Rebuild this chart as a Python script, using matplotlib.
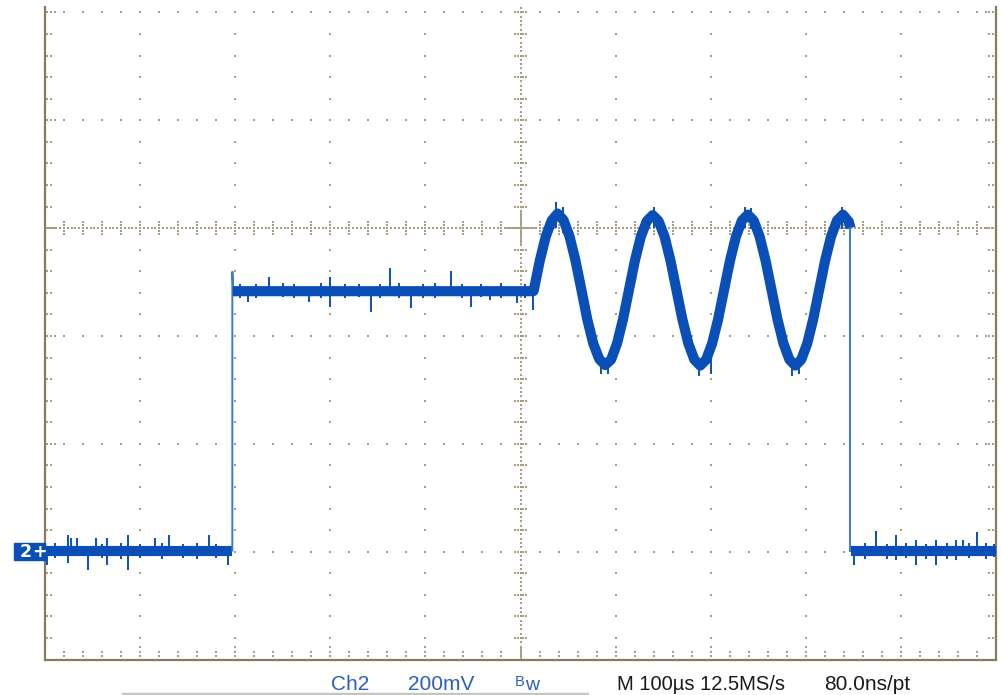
import numpy as np
import matplotlib
matplotlib.use("Agg")
from matplotlib import pyplot as plt
from matplotlib.patches import Rectangle

# time in us, level in mV (0 mV = Ch2 ground marker), 100 us/div, 200 mV/div
low_level = 2
high_level = 483
rise_t = 197
rise_top = 519
fall_t = 847
fall_top = 600

# 10 kHz burst
burst_t = [514.0, 520.2, 526.5, 532.8, 539.0, 545.2, 551.5, 557.8,
           564.0, 570.2, 576.5, 582.8, 589.0, 595.2, 601.5, 607.8,
           614.0, 620.2, 626.5, 632.8, 639.0, 645.2, 651.5, 657.8,
           664.0, 670.2, 676.5, 682.8, 689.0, 695.2, 701.5, 707.8,
           714.0, 720.2, 726.5, 732.8, 739.0, 745.2, 751.5, 757.8,
           764.0, 770.2, 776.5, 782.8, 789.0, 795.2, 801.5, 807.8,
           814.0, 820.2, 826.5, 832.8, 839.0, 845.2, 847.0]
burst_mv = [485, 539, 584, 614, 627, 615, 585, 540,
            486, 431, 386, 357, 346, 356, 386, 431,
            485, 539, 584, 613, 624, 613, 584, 539,
            485, 431, 386, 356, 345, 356, 386, 431,
            485, 539, 584, 614, 625, 614, 584, 539,
            485, 431, 386, 356, 345, 356, 386, 431,
            485, 539, 584, 614, 625, 612, 600]

# noise spikes: time, bottom, top (mV)
spike_t = [2, 10, 24, 27, 34, 45, 54, 60, 65, 80, 87, 100, 116, 123, 130,
           145, 160, 172, 180, 192,
           205, 213, 222, 236, 250, 262, 278, 290, 300, 315, 330, 343, 352,
           363, 372, 385, 398, 410, 427, 438, 448, 458, 468, 480, 496, 505, 513,
           537, 545, 585, 592, 640, 688, 700, 736, 742, 786, 793, 838,
           851, 862, 874, 885, 895, 905, 916, 926, 937, 948, 958, 965, 972,
           980, 990, 998]
spike_lo = [-25, -12, -21, 2, 2, -34, 2, -12, -25, -14, -34, -12, 2, -14, 2,
            -12, -14, 2, -12, -25,
            470, 463, 470, 483, 472, 470, 463, 471, 454, 470, 472, 445, 470,
            483, 470, 452, 471, 470, 483, 470, 453, 472, 466, 470, 462, 471, 448,
            600, 590, 330, 330, 600, 325, 330, 600, 598, 325, 330, 598,
            -25, -13, 2, -14, -15, -12, -25, -13, -25, -14, -15, 2, -12,
            2, -14, -10]
spike_hi = [2, 16, 31, 25, 25, 2, 25, 14, 25, 16, 31, 15, 25, 16, 31,
            15, 16, 31, 15, 2,
            497, 483, 496, 510, 498, 497, 483, 498, 510, 497, 496, 483, 497,
            526, 498, 483, 497, 498, 520, 497, 483, 496, 483, 498, 483, 497, 483,
            648, 640, 360, 360, 640, 355, 360, 640, 638, 355, 360, 640,
            2, 16, 39, 15, 31, 16, 22, 15, 22, 16, 22, 22, 16,
            37, 16, 15]

trace_col = '#0a4fb8'
edge_col = '#3a7ad2'
grid_col = '#a89e82'
border_col = '#877d5e'
label_blue = '#2a5ec0'

fig = plt.figure(figsize=(10.01, 6.95), dpi=100)
ax = fig.add_axes([45 / 1001, 35.5 / 695, 951 / 1001, 652.5 / 695])
ax.set_xlim(0, 1000)
ax.set_ylim(-200, 1010)
ax.set_xticks([])
ax.set_yticks([])
ax.spines['top'].set_visible(False)
for s in ['left', 'right', 'bottom']:
    ax.spines[s].set_color(border_col)
    ax.spines[s].set_linewidth(1.6)


def dots(xs, ys):
    ax.plot(xs, ys, 's', ms=1.5, mew=0, color=grid_col, zorder=1)


# graticule
minor_y = np.arange(-200, 1011, 40)
minor_x = np.arange(0, 1001, 20)
for gx in range(100, 1000, 100):
    if gx == 500:
        yy = np.arange(-200, 1011, 8)
    else:
        yy = minor_y
    dots(np.full(len(yy), gx), yy)
for gy in range(0, 1001, 200):
    if gy == 600:
        xx = np.arange(0, 1001, 4)
    else:
        xx = minor_x
    dots(xx, np.full(len(xx), gy))

# tick marks on the centre lines
for yy in minor_y:
    dots([494, 497, 503, 506], [yy] * 4)
for xx in minor_x:
    dots([xx] * 4, [589, 594, 606, 611])
ax.plot([486, 514], [600, 600], color=grid_col, lw=1.3, zorder=1)
ax.plot([500, 500], [570, 630], color=grid_col, lw=1.3, zorder=1)

# tick marks along the border
for xx in minor_x:
    ticks = [-193.5, -185.5]
    if xx % 100 == 0:
        ticks.append(-176)
    dots([xx] * len(ticks), ticks)
for yy in minor_y:
    left = [2, 6]
    right = [996.5, 993]
    if yy % 200 == 0:
        left.append(10.5)
        right.append(989)
    dots(left, [yy] * len(left))
    dots(right, [yy] * len(right))
ax.plot([500, 500], [-200, -178], color=grid_col, lw=1.3, zorder=1)

# trace
lw_band = 7.3
ax.plot([0, rise_t], [low_level, low_level], color=trace_col, lw=lw_band,
        solid_capstyle='butt', zorder=3)
ax.plot([rise_t, rise_t, rise_t + 1], [low_level, rise_top, high_level],
        color=edge_col, lw=1.4, zorder=3)
ax.plot([rise_t + 0.5] + [burst_t[0] - 0.5] + burst_t,
        [high_level, high_level] + burst_mv,
        color=trace_col, lw=lw_band, solid_capstyle='butt',
        solid_joinstyle='round', zorder=3)
ax.plot([fall_t, fall_t], [fall_top, low_level], color=edge_col, lw=1.4, zorder=3)
ax.plot([fall_t + 0.5, 1000], [low_level, low_level], color=trace_col, lw=lw_band,
        solid_capstyle='butt', zorder=3)
ax.vlines(spike_t, spike_lo, spike_hi, color=trace_col, lw=1.4, zorder=3)

# ground marker for channel 2
ax.add_patch(Rectangle((-32.6, -16), 32.6, 32, color=trace_col,
                       clip_on=False, zorder=4))
ax.text(-20, 0, '2', color='white', fontsize=12.5, fontweight='bold',
        ha='center', va='center', clip_on=False, zorder=5)
ax.text(-6, 0, '+', color='white', fontsize=12.5, fontweight='bold',
        ha='center', va='center', clip_on=False, zorder=5)

# readout line
fam = ['Liberation Sans Narrow', 'Liberation Sans', 'DejaVu Sans']
base = (695 - 690) / 695
fig.text(331 / 1001, base, 'Ch2', color=label_blue, fontsize=15, family=fam)
fig.text(408 / 1001, base, '200mV', color=label_blue, fontsize=15, family=fam)
fig.text(515 / 1001, (695 - 685.5) / 695, 'B', color=label_blue, fontsize=10.5, family=fam)
fig.text(525 / 1001, base, 'w', color=label_blue, fontsize=14, family=fam)
fig.text(617 / 1001, base, 'M 100\u00b5s 12.5MS/s', color='#1a1a1a', fontsize=14.5, family=fam)
fig.text(824 / 1001, base, '80.0ns/pt', color='#1a1a1a', fontsize=15, family=fam)
fig.patches.append(Rectangle((122 / 1001, 0), (588 - 122) / 1001, 2.5 / 695,
                             transform=fig.transFigure, color='#c4c4c4'))

fig.savefig('out.png', dpi=100)
